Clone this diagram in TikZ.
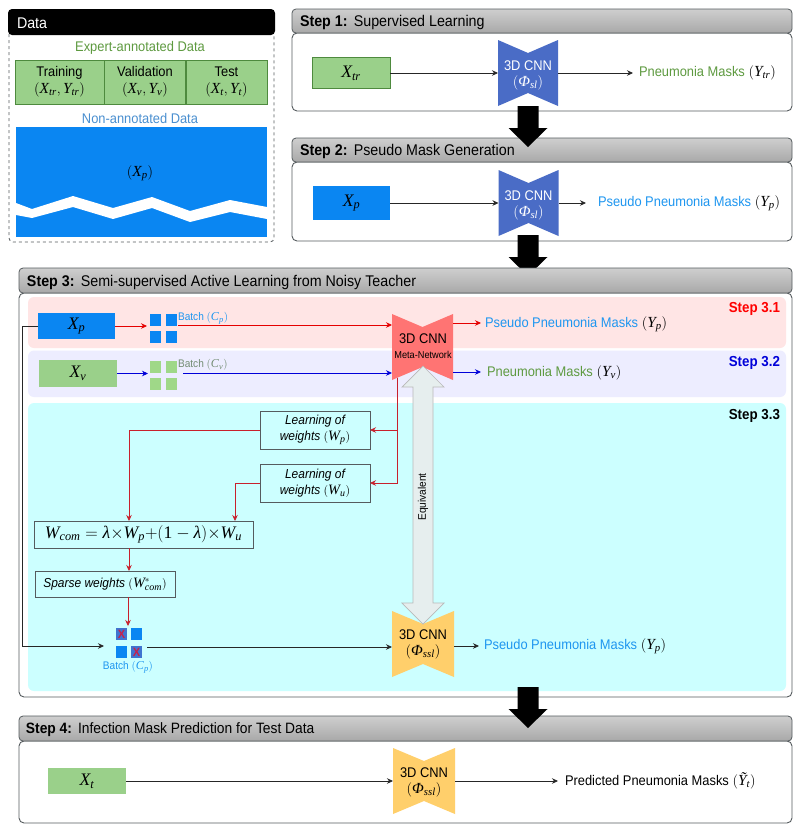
\documentclass[tikz,border=0pt]{standalone}
\usepackage{fontspec}
\setmainfont[FakeStretch=0.92]{Liberation Sans}
\newfontfamily\lsf[NFSSFamily=libserif,Scale=1.1]{Liberation Serif}
\DeclareSymbolFont{lsit}{TU}{libserif}{m}{it}
\DeclareSymbolFont{lsrm}{TU}{libserif}{m}{n}
\DeclareMathSymbol{(}{\mathopen}{lsrm}{"28}
\DeclareMathSymbol{)}{\mathclose}{lsrm}{"29}
\everymath{\fam\symlsit}
\usetikzlibrary{arrows.meta,calc}
\definecolor{gtext}{HTML}{5E9A40}
\definecolor{btext}{HTML}{1E96F0}
\definecolor{nontext}{HTML}{4A8FD0}
\definecolor{gfill}{HTML}{9AD08A}
\definecolor{gedge}{HTML}{4E8A3E}
\definecolor{bfill}{HTML}{0A86F2}
\definecolor{cnnblue}{HTML}{4A6CC6}
\definecolor{cnnorange}{HTML}{FFCF6B}
\definecolor{cnnred}{HTML}{FF7473}
\definecolor{sqgreen}{HTML}{9FD888}
\definecolor{linered}{HTML}{C8202C}
\definecolor{edgegray}{HTML}{555B5E}
\definecolor{mkfill}{HTML}{3F74D0}
\definecolor{mktext}{HTML}{C8204A}
\definecolor{cyanbg}{HTML}{CCFFFF}
\definecolor{eqfill}{HTML}{E6EEEE}
\newcommand{\fs}[1]{\fontsize{#1}{#1}\selectfont}
\newcommand{\PhiG}{\mbox{\lsf\itshape Φ}}
\newcommand{\lamG}{\mbox{\lsf\itshape λ}}
\newcommand{\oneG}{\mbox{\lsf\upshape 1}}
\newcommand{\YtG}{\mbox{\lsf\itshape Ỹ}}
\tikzset{
  x=1pt,y=-1pt,
  every node/.style={inner sep=0pt,outer sep=0pt},
  body/.style={draw=edgegray,line width=0.9pt,fill=white,rounded corners=5pt},
  headbar/.style={draw=edgegray,line width=0.8pt,top color=gray!38,bottom color=gray!68,rounded corners=4pt},
  headtext/.style={anchor=west,font=\fs{15.5}},
  greenbox/.style={draw=gedge,line width=0.6pt,fill=gfill,font=\fs{16}},
  bluebox/.style={fill=bfill,font=\fs{16}},
  cnntext/.style={minimum width=60pt,minimum height=66pt,align=center,font=\fs{14}},
  outtext/.style={anchor=west,font=\fs{14}},
  arr/.style={-{Stealth[length=6pt,width=5.5pt]},line width=0.7pt,black!85},
  redarr/.style={arr,red!90!black},
  bluearr/.style={arr,blue!85!black},
  darkred/.style={arr,linered},
  fatarrow/.style={fill=black},
  wbox/.style={draw=edgegray,line width=0.8pt,align=center,font=\fs{13}\itshape},
  steplabel/.style={anchor=east,font=\fs{14.5}\bfseries},
  sq/.style={inner sep=0pt},
  markbox/.style={fill=mkfill,text=mktext,minimum width=11pt,minimum height=12pt,anchor=north west,font=\fs{12}\bfseries},
}
\newcommand{\cnnshape}[4]{% x, top y, fill, width
  \fill[#3] (#1,#2) -- ++(#4/2,13) -- ++(#4/2,-13) -- ++(0,66) -- ++(-#4/2,-13) -- ++(-#4/2,13) -- cycle;}
\newcommand{\fatarr}[2]{% x centre, tip y
  \fill[fatarrow] (#1-10.5,#2-41) -- (#1+10.5,#2-41) -- (#1+10.5,#2-19) -- (#1+19.5,#2-19) -- (#1,#2) -- (#1-19.5,#2-19) -- (#1-10.5,#2-19) -- cycle;}
\begin{document}
\begin{tikzpicture}
\useasboundingbox (0,0) rectangle (800,831);
\fill[white] (0,0) rectangle (800,831);

% ---------- Data ----------
\draw[draw=edgegray,dashed,line width=0.8pt,rounded corners=4pt] (9,30) rectangle (274,242);
\fill[black,rounded corners=4pt] (8,9) rectangle (275,35);
\node[anchor=west,text=white,font=\fs{15.5}] (datatitle) at (17,23) {Data};
\node[text=gtext,font=\fs{14}] (expert) at (140,48) {Expert-annotated Data};
\node[greenbox,minimum width=89pt,minimum height=44pt,align=center,anchor=north west,font=\fs{14}] (train) at (15,60) {Training\\[3pt]$(X_{tr},Y_{tr})$};
\node[greenbox,minimum width=81pt,minimum height=44pt,align=center,anchor=north west,font=\fs{14}] (valid) at (104.5,60) {Validation\\[3pt]$(X_v,Y_v)$};
\node[greenbox,minimum width=81pt,minimum height=44pt,align=center,anchor=north west,font=\fs{14}] (testd) at (186,60) {Test\\[3pt]$(X_t,Y_t)$};
\node[text=nontext,font=\fs{14}] (nonann) at (140,118) {Non-annotated Data};
\fill[bfill] (16,127) rectangle (267,237);
\fill[white] (16,203) -- (32,209) -- (73,196) -- (113,208) -- (152,197) -- (190,211) -- (230,200) -- (267,207)
  -- (267,219) -- (230,212) -- (190,222) -- (152,208) -- (113,219) -- (73,207) -- (32,218) -- (16,215) -- cycle;
\node[font=\fs{14}] (xpdata) at (140,173) {$(X_p)$};

% ---------- Step 1 ----------
\draw[body] (292,33) rectangle (792,111);
\draw[headbar] (292,9) rectangle (792,33);
\node[headtext] (s1) at (300,22) {\textbf{Step 1:}\hspace{1pt} Supervised Learning};
\node[greenbox,minimum width=78pt,minimum height=31pt,anchor=west] (xtr) at (312,73) {$X_{tr}$};
\cnnshape{498}{40}{cnnblue}{60}
\node[cnntext,text=white] (c1) at (528,75) {3D CNN\\[2pt]$(\PhiG_{sl})$};
\coordinate (c1in) at (498,73);
\coordinate (c1out) at (558,73);
\node[outtext] (o1) at (639,73) {\textcolor{gtext}{Pneumonia Masks} $(Y_{tr})$};
\coordinate (o1in) at (633,73);
\draw[arr] (xtr.east) -- (c1in);
\draw[arr] (c1out) -- (o1in);

% ---------- Step 2 ----------
\draw[body] (292,162) rectangle (792,241);
\draw[headbar] (292,138) rectangle (792,162);
\node[headtext] (s2) at (300,151) {\textbf{Step 2:}\hspace{1pt} Pseudo Mask Generation};
\node[bluebox,minimum width=77pt,minimum height=34pt,anchor=west] (xp2) at (313,203) {$X_p$};
\cnnshape{498.5}{170}{cnnblue}{60}
\node[cnntext,text=white] (c2) at (528.5,205) {3D CNN\\[2pt]$(\PhiG_{sl})$};
\coordinate (c2in) at (498.5,203);
\coordinate (c2out) at (558.5,203);
\node[outtext] (o2) at (598,203) {\textcolor{btext}{Pseudo Pneumonia Masks} $(Y_p)$};
\coordinate (o2in) at (586,203);
\draw[arr] (xp2.east) -- (c2in);
\draw[arr] (c2out) -- (o2in);
\fatarr{528}{147}
\fatarr{528}{276}

% ---------- Step 3 ----------
\draw[body] (19,293) rectangle (792,697);
\draw[headbar] (19,268) rectangle (792,293);
\node[headtext] (s3) at (27,282) {\textbf{Step 3:}\hspace{1pt} Semi-supervised Active Learning from Noisy Teacher};
\fill[red!10,rounded corners=6pt] (28,297) rectangle (786,348);
\fill[blue!7,rounded corners=6pt] (28,350.5) rectangle (786,397);
\fill[cyanbg,rounded corners=6pt] (28,403) rectangle (786,691);
\node[steplabel,text=red] (l31) at (780,309) {Step 3.1};
\node[steplabel,text=blue!85!black] (l32) at (780,362.5) {Step 3.2};
\node[steplabel] (l33) at (780,416) {Step 3.3};

% row 3.1
\node[bluebox,minimum width=77pt,minimum height=26pt,anchor=west] (xp3) at (38,326) {$X_p$};
\foreach \x in {150,165.5} \foreach \y in {314,331} \fill[bfill] (\x,\y) rectangle ++(11,12);
\coordinate (bpin) at (147,326);
\coordinate (bpout) at (178,325);
\node[anchor=west,text=btext,font=\fs{11}] (bplab) at (178,318) {Batch $(C_p)$};
% row 3.2
\node[greenbox,draw=none,minimum width=78pt,minimum height=27pt,anchor=west] (xv3) at (39,373.5) {$X_v$};
\foreach \x in {150,166} \foreach \y in {361,378} \fill[sqgreen] (\x,\y) rectangle ++(11,11.5);
\coordinate (bvin) at (148,373.5);
\coordinate (bvout) at (183,373);
\node[anchor=west,text=gray!90!green,font=\fs{11}] (bvlab) at (178,365) {Batch $(C_v)$};
% meta network
\cnnshape{392}{314}{cnnred}{61}
\node[cnntext,align=center] (meta) at (423,346) {3D CNN\\[1pt]{\fs{10}Meta-Network}};
\coordinate (mtop) at (392,325);
\coordinate (mmid) at (392,373);
\coordinate (mo1) at (453,323);
\coordinate (mo1e) at (481,323);
\coordinate (mo2) at (453,372);
\coordinate (mo2e) at (481,372);
\coordinate (mv) at (397,378);
\node[outtext] (o31) at (485,324.5) {\textcolor{btext}{Pseudo Pneumonia Masks} $(Y_p)$};
\node[outtext] (o32) at (487,373) {\textcolor{gtext}{Pneumonia Masks} $(Y_v)$};
\draw[redarr] (xp3.east) -- (bpin);
\draw[redarr] (bpout) -- (mtop);
\draw[redarr] (mo1) -- (mo1e);
\draw[bluearr] (xv3.east) -- (bvin);
\draw[bluearr] (bvout) -- (mmid);
\draw[bluearr] (mo2) -- (mo2e);

% weights
\node[wbox,minimum width=110pt,minimum height=38pt,anchor=north west] (lp) at (260,411) {Learning of\\[3pt]weights $(W_p)$};
\node[wbox,minimum width=110pt,minimum height=38pt,anchor=north west] (lu) at (260,464) {Learning of\\[3pt]weights $(W_u)$};
\node[draw=edgegray,line width=0.8pt,minimum width=219pt,minimum height=27pt,anchor=north west,font=\fs{16}] (wc) at (34,521) {$W_{com}=\lamG{\times}W_p{+}(\oneG-\lamG){\times}W_u$};
\node[wbox,minimum width=140pt,minimum height=26pt,anchor=north west] (sw) at (35,571) {Sparse weights $(W^{*}_{com})$};
\coordinate (wc1) at (129,521);
\coordinate (wc2) at (235,521);
\coordinate (wcb) at (129,548);
\coordinate (swt) at (129,571);
\coordinate (swb) at (128,597);
\coordinate (bct) at (128,626);
\draw[darkred] (mv) |- (lp.east);
\draw[darkred] (mv) |- (lu.east);
\draw[darkred] (lp.west) -| (wc1);
\draw[darkred] (lu.west) -| (wc2);
\draw[darkred] (wcb) -- (swt);
\draw[darkred] (swb) -- (bct);

% sparse batch
\fill[bfill] (131,628) rectangle ++(11,12);
\fill[bfill] (116,646) rectangle ++(11,12);
\node[markbox] (mk1) at (116,628) {X};
\node[markbox] (mk2) at (131,646) {X};
\node[text=btext,font=\fs{11}] (bclab) at (128,667) {Batch $(C_p)$};
\coordinate (bcin) at (104,646);
\coordinate (bcout) at (147,647);
\coordinate (xpl) at (22,326);
\draw[arr] (xp3.west) -- (xpl) |- (bcin);

% ssl CNN
\cnnshape{392}{611}{cnnorange}{62}
\node[cnntext] (c3) at (423,644) {3D CNN\\[2pt]$(\PhiG_{ssl})$};
\coordinate (c3in) at (392,647);
\coordinate (c3o) at (454,646);
\coordinate (c3oe) at (479,646);
\node[outtext] (o33) at (484,646) {\textcolor{btext}{Pseudo Pneumonia Masks} $(Y_p)$};
\draw[arr] (bcout) -- (c3in);
\draw[arr] (c3o) -- (c3oe);

% equivalent
\draw[draw=gray!55,fill=eqfill,line width=0.7pt]
  (423,366) -- (444,387) -- (433,387) -- (433,603) -- (444,603) -- (423,624) -- (402,603) -- (413,603) -- (413,387) -- (402,387) -- cycle;
\node[rotate=90,font=\fs{11}] (eq) at (423,497) {Equivalent};

% ---------- Step 4 ----------
\draw[body] (19,741) rectangle (792,823);
\draw[headbar] (19,716) rectangle (792,741);
\node[headtext,font=\fs{15}] (s4) at (26,730) {\textbf{Step 4:}\hspace{1pt} Infection Mask Prediction for Test Data};
\node[greenbox,draw=none,minimum width=78pt,minimum height=26pt,anchor=west] (xt) at (48,781) {$X_t$};
\cnnshape{393}{748}{cnnorange}{62}
\node[cnntext] (c4) at (424,782) {3D CNN\\[2pt]$(\PhiG_{ssl})$};
\coordinate (c4in) at (393,781);
\coordinate (c4out) at (455,781);
\node[outtext] (o4) at (565,781) {Predicted Pneumonia Masks $(\YtG_t)$};
\coordinate (o4in) at (558,781);
\draw[arr] (xt.east) -- (c4in);
\draw[arr] (c4out) -- (o4in);
\fatarr{528}{728}
\end{tikzpicture}
\end{document}
